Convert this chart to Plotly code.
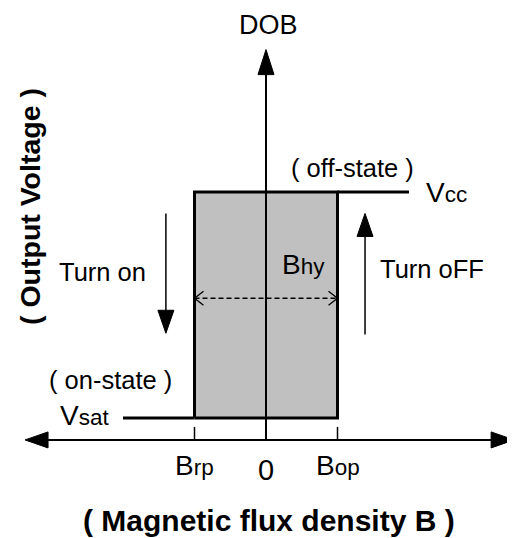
import plotly.graph_objects as go

# ---------------- data (normalised diagram units) ----------------
B_rp, B_zero, B_op = -1.0, 0.0, 1.0          # release / zero / operate flux density
V_sat, V_cc = 0.0, 1.0                       # output levels
B_level_ext = 2.0                            # how far the Vsat / Vcc lines run
B_axis_left, B_axis_right = -3.37, 3.47      # horizontal axis arrow tips
V_axis_top = 1.63                            # vertical axis arrow tip
V_axis_base = -0.097                         # where the B axis sits
V_hy = 0.53                                  # height of the B_hy dimension line
turn_on_B, turn_on_V = -1.40, [0.905, 0.375]
turn_off_B, turn_off_V = 1.385, [0.37, 0.905]

SUB = "<span style='font-size:22.5px'>{}</span>"
tick_B = [B_rp, B_zero, B_op]
tick_labels = ["B" + SUB.format("rp"), "0", "B" + SUB.format("op")]
level_labels = ["V" + SUB.format("sat"), "V" + SUB.format("cc")]
state_labels = ["( on-state )", "( off-state )"]
turn_labels = ["Turn on", "Turn oFF"]
hy_label = "B" + SUB.format("hy")
x_title = "( Magnetic flux density B )"
y_title = "( Output Voltage )"
y_name = "DOB"

# ---------------- styling helpers ----------------
PAGE_OFF = 8                  # default page margin around the plot div
W, H = 515 - PAGE_OFF, 538 - PAGE_OFF
SX, SY = 71.5, 226.0          # pixels per diagram unit
X0, Y0 = 266, 418             # window pixel of B=0 / V_sat
FONT = "Arial, Liberation Sans, sans-serif"


def dx(p):
    return p / SX


def dy(p):
    return p / SY


def tri(x, y, d, L=24, hw=8):
    if d == "up":
        return [x, x - dx(hw), x + dx(hw), x], [y, y - dy(L), y - dy(L), y]
    if d == "down":
        return [x, x - dx(hw), x + dx(hw), x], [y, y + dy(L), y + dy(L), y]
    if d == "left":
        return [x, x + dx(L), x + dx(L), x], [y, y - dy(hw), y + dy(hw), y]
    return [x, x - dx(L), x - dx(L), x], [y, y - dy(hw), y + dy(hw), y]


fig = go.Figure()


def line(xs, ys, w=2, dash="solid"):
    fig.add_trace(go.Scatter(x=xs, y=ys, mode="lines",
                             line=dict(color="black", width=w, dash=dash),
                             hoverinfo="skip", showlegend=False))


def head(xs, ys):
    fig.add_trace(go.Scatter(x=xs, y=ys, mode="lines", fill="toself",
                             fillcolor="black", line=dict(color="black", width=1),
                             hoverinfo="skip", showlegend=False))


# hysteresis area
fig.add_trace(go.Scatter(x=[B_rp, B_op, B_op, B_rp, B_rp],
                         y=[V_sat, V_sat, V_cc, V_cc, V_sat],
                         mode="lines", fill="toself", fillcolor="#c0c0c0",
                         line=dict(color="black", width=3),
                         hoverinfo="skip", showlegend=False))
# level lines
line([-B_level_ext, B_rp], [V_sat, V_sat], 3)
line([B_op, B_level_ext], [V_cc, V_cc], 3)

# axes
line([B_axis_left + dx(20), B_axis_right - dx(20)], [V_axis_base, V_axis_base], 2)
head(*tri(B_axis_left, V_axis_base, "left", 23, 8))
head(*tri(B_axis_right, V_axis_base, "right", 23, 8))
line([B_zero, B_zero], [V_axis_base, V_axis_top - dy(20)], 2)
head(*tri(B_zero, V_axis_top, "up", 25, 8))

# ticks
for b in (B_rp, B_op):
    line([b, b], [V_axis_base, V_axis_base + dy(13)], 1.5)

# B_hy dimension line
line([B_rp, B_op], [V_hy, V_hy], 1.5, "5px,3px")
for b, s in ((B_rp, 1), (B_op, -1)):
    line([b + s * dx(9), b, b + s * dx(9)], [V_hy + dy(7), V_hy, V_hy - dy(7)], 1.3)

# turn on / off arrows
line([turn_on_B, turn_on_B], [turn_on_V[0], turn_on_V[1] + dy(18)], 1.5)
head(*tri(turn_on_B, turn_on_V[1], "down", 23, 8))
line([turn_off_B, turn_off_B], [turn_off_V[0], turn_off_V[1] - dy(18)], 1.5)
head(*tri(turn_off_B, turn_off_V[1], "up", 23, 8))


def txt(x, y, t, size=25.5, xa="center", ya="middle", bold=False, angle=0):
    fig.add_annotation(x=x, y=y, text=f"<b>{t}</b>" if bold else t, showarrow=False,
                       xanchor=xa, yanchor=ya, textangle=angle,
                       font=dict(family=FONT, size=size, color="black"))


txt(dx(268 - X0), dy(Y0 - 25), y_name, 27)
txt(dx(352 - X0), dy(Y0 - 168), state_labels[1])
txt(dx(110 - X0), dy(Y0 - 380), state_labels[0])
txt(dx(424 - X0), V_cc, level_labels[1], 28, xa="left")
txt(dx(111 - X0), V_sat + dy(3), level_labels[0], 28, xa="right")
txt(dx(102 - X0), dy(Y0 - 272), turn_labels[0])
txt(dx(432 - X0), dy(Y0 - 269), turn_labels[1])
txt(dx(280 - X0), dy(Y0 - 264), hy_label, 28, xa="left")
for b, lab in zip(tick_B, tick_labels):
    off = 470 if b == 0 else 465
    txt(b, dy(Y0 - off), lab, 28 if b != 0 else 29)
txt(dx(269 - X0), dy(Y0 - 520.5), x_title, 30, bold=True)
txt(dx(30 - X0), dy(Y0 - 207), y_title, 28.5, bold=True, angle=-90)

fig.update_layout(
    width=W, height=H, margin=dict(l=0, r=0, t=0, b=0),
    paper_bgcolor="white", plot_bgcolor="white",
    xaxis=dict(range=[dx(PAGE_OFF - X0), dx(515 - X0)], visible=False, fixedrange=True),
    yaxis=dict(range=[dy(Y0 - 538), dy(Y0 - PAGE_OFF)], visible=False, fixedrange=True),
    showlegend=False,
)
fig.write_html("out.html")
